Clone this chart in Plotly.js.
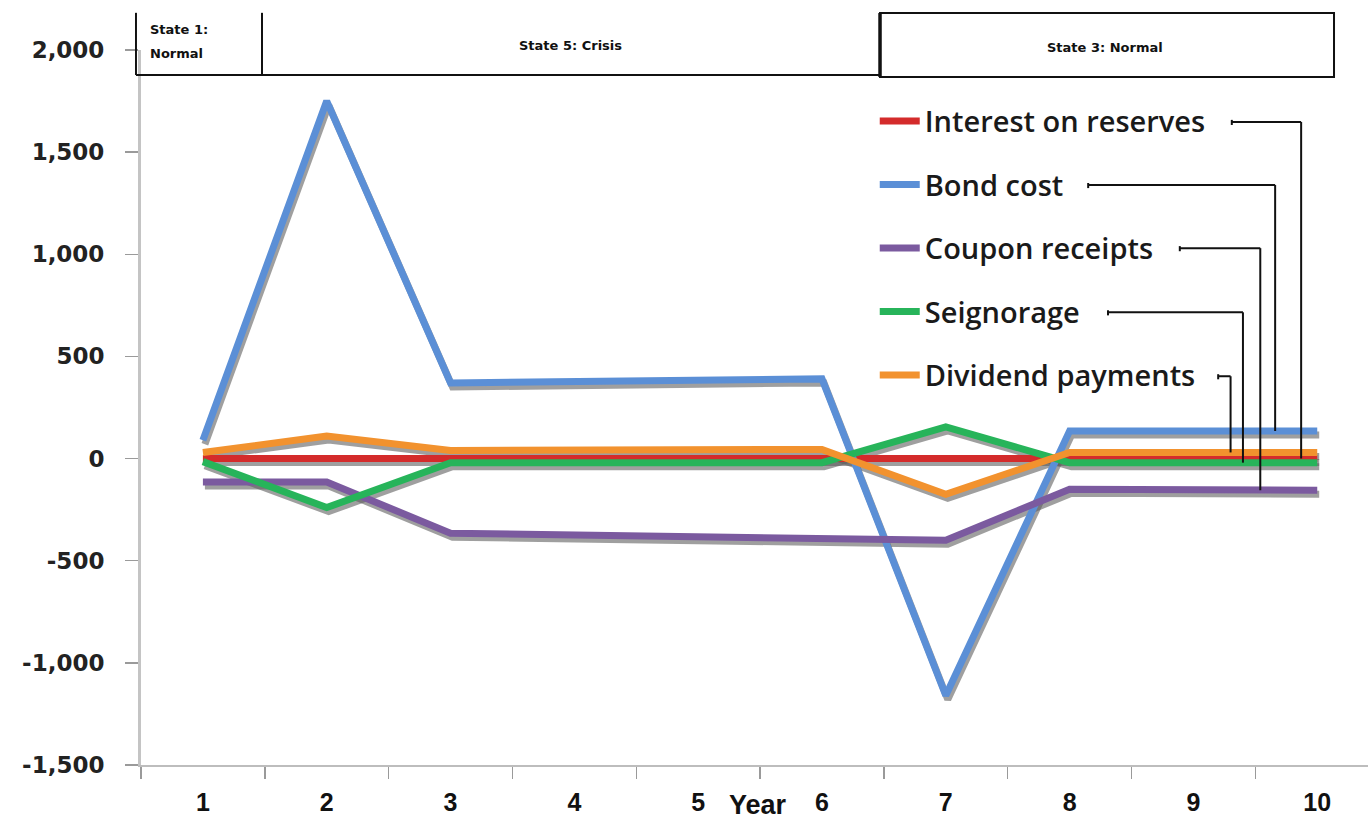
<!DOCTYPE html>
<html>
<head>
<meta charset="utf-8">
<script src="https://cdn.plot.ly/plotly-3.0.1.min.js"></script>
<style>
  html, body { margin: 0; padding: 0; background: #fff; }
  #chart { width: 1368px; height: 822px; }
  .x2y2 .scatterlayer { filter: blur(0.7px); }
</style>
</head>
<body>
<div id="chart"></div>
<script>
// Years along the horizontal axis
const years = ['1', '2', '3', '4', '5', '6', '7', '8', '9', '10'];

// Yearly flows for each item
const interestOnReserves = [0, 0, 0, 0, 0, 0, 0, 0, 0, 0];
const bondCost = [90, 1750, 370, 377, 384, 390, -1160, 135, 135, 135];
const couponReceipts = [-115, -115, -365, -373, -380, -388, -400, -150, -152, -155];
const seignorage = [-15, -240, -20, -20, -20, -20, 155, -20, -20, -20];
const dividendPayments = [30, 110, 40, 42, 43, 45, -175, 30, 30, 30];

const seriesNames = ['Interest on reserves', 'Bond cost', 'Coupon receipts', 'Seignorage', 'Dividend payments'];
const seriesValues = [interestOnReserves, bondCost, couponReceipts, seignorage, dividendPayments];
const seriesColors = ['#d42b2b', '#5b8fd6', '#7b5a9f', '#27b45a', '#f2922e'];

// Vertical axis ticks
const yTickVals = [-1500, -1000, -500, 0, 500, 1000, 1500, 2000];
const yTickText = ['-1,500', '-1,000', '-500', '0', '500', '1,000', '1,500', '2,000'];

// Regime bands along the top
const stateLabels = ['State 1:', 'Normal', 'State 5: Crisis', 'State 3: Normal'];

const xRange = [-0.5, 9.41];
const yRange = [-1500, 2000];
// shadow offset: about 2px right, 4px down
const shadowX = [xRange[0] - 0.016, xRange[1] - 0.016];
const shadowY = [yRange[0] + 19.6, yRange[1] + 19.6];

const traces = [];
seriesValues.forEach((vals, i) => {
  traces.push({
    x: years, y: vals, type: 'scatter', mode: 'lines',
    xaxis: 'x2', yaxis: 'y2', showlegend: false, hoverinfo: 'skip',
    line: { color: 'rgba(95,95,95,0.6)', width: 7 }
  });
});
seriesValues.forEach((vals, i) => {
  traces.push({
    x: years, y: vals, type: 'scatter', mode: 'lines',
    xaxis: 'x3', yaxis: 'y3', name: seriesNames[i], legendgroup: 'g' + i,
    line: { color: seriesColors[i], width: 7 }
  });
});

// Leader lines from each legend entry down to its series (x in category index, top y in data units)
const leaderStartX = [8.31, 7.15, 7.89, 7.31, 8.20];
const leaderCornerX = [8.87, 8.66, 8.54, 8.40, 8.30];
const leaderTopY = [1648, 1339, 1030, 716, 403];

const shapes = [];
const black = { color: '#111', width: 2 };
seriesValues.forEach((vals, i) => {
  const endY = vals[vals.length - 1];
  shapes.push({ type: 'line', xref: 'x', yref: 'y', x0: leaderStartX[i], x1: leaderCornerX[i], y0: leaderTopY[i], y1: leaderTopY[i], line: black });
  shapes.push({ type: 'line', xref: 'x', yref: 'y', x0: leaderCornerX[i], x1: leaderCornerX[i], y0: leaderTopY[i], y1: endY, line: black });
  shapes.push({ type: 'line', xref: 'x', yref: 'y', x0: leaderStartX[i], x1: leaderStartX[i], y0: leaderTopY[i] - 15, y1: leaderTopY[i] + 10, line: black });
});

// State boxes
shapes.push({ type: 'line', xref: 'paper', yref: 'paper', x0: -0.0041, x1: -0.0041, y0: 0.965, y1: 1.052, line: black });
shapes.push({ type: 'line', xref: 'paper', yref: 'paper', x0: 0.0986, x1: 0.0986, y0: 0.965, y1: 1.052, line: black });
shapes.push({ type: 'line', xref: 'paper', yref: 'paper', x0: -0.0041, x1: 0.6023, y0: 0.965, y1: 0.965, line: black });
shapes.push({ type: 'rect', xref: 'paper', yref: 'paper', x0: 0.6023, x1: 0.9723, y0: 0.9622, y1: 1.0517, line: black, fillcolor: 'rgba(0,0,0,0)' });
shapes.push({ type: 'line', xref: 'paper', yref: 'paper', x0: 0.6023, x1: 0.6023, y0: 0.9622, y1: 1.0517, line: { color: '#111', width: 3.5 } });

const stateFont = { family: 'DejaVu Sans', size: 13, color: '#111', weight: 'bold' };
const annotations = [
  { xref: 'paper', yref: 'paper', x: 0.006, y: 1.028, xanchor: 'left', yanchor: 'middle', showarrow: false, text: stateLabels[0], font: stateFont },
  { xref: 'paper', yref: 'paper', x: 0.006, y: 0.995, xanchor: 'left', yanchor: 'middle', showarrow: false, text: stateLabels[1], font: stateFont },
  { xref: 'paper', yref: 'paper', x: 0.35, y: 1.006, xanchor: 'center', yanchor: 'middle', showarrow: false, text: stateLabels[2], font: stateFont },
  { xref: 'paper', yref: 'paper', x: 0.786, y: 1.004, xanchor: 'center', yanchor: 'middle', showarrow: false, text: stateLabels[3], font: stateFont },
  { xref: 'paper', yref: 'paper', x: 0.503, y: 0, xanchor: 'center', yanchor: 'top', yshift: -23, showarrow: false, text: 'Year',
    font: { family: 'Liberation Sans Narrow, Liberation Sans, sans-serif', size: 27, color: '#111', weight: 'bold' } }
];

const layout = {
  width: 1368, height: 822,
  margin: { l: 141, r: 0, t: 50, b: 57 },
  paper_bgcolor: '#fff', plot_bgcolor: '#fff',
  showlegend: true,
  legend: {
    x: 0.598, xanchor: 'left', y: 0.936, yanchor: 'top',
    bgcolor: 'rgba(0,0,0,0)', borderwidth: 0, tracegroupgap: 22.8, itemwidth: 40,
    font: { family: 'Open Sans', size: 29, color: '#1a1a1a', weight: 600 }
  },
  xaxis: {
    type: 'category', categoryorder: 'array', categoryarray: years, range: xRange, tickson: 'boundaries',
    showgrid: false, zeroline: false, showline: true, linecolor: '#bdbdbd', linewidth: 2,
    ticks: 'outside', ticklen: 12, tickcolor: '#9a9a9a', tickwidth: 1.5, ticklabelstandoff: 14,
    tickfont: { family: 'Liberation Sans Narrow, Liberation Sans, sans-serif', size: 25, color: '#111', weight: 'bold' }
  },
  yaxis: {
    range: yRange, tickvals: yTickVals, ticktext: yTickText,
    showgrid: false, zeroline: false, showline: true, linecolor: '#c4c4c4', linewidth: 3,
    ticks: 'outside', ticklen: 13, tickcolor: '#9a9a9a', tickwidth: 1.5, ticklabelstandoff: 16,
    tickfont: { family: 'DejaVu Sans', size: 23, color: '#222', weight: 'bold' }
  },
  xaxis2: { type: 'category', categoryorder: 'array', categoryarray: years, overlaying: 'x', range: shadowX, visible: false },
  yaxis2: { overlaying: 'y', range: shadowY, visible: false },
  xaxis3: { type: 'category', categoryorder: 'array', categoryarray: years, overlaying: 'x', range: xRange, visible: false },
  yaxis3: { overlaying: 'y', range: yRange, visible: false },
  shapes: shapes,
  annotations: annotations
};

Plotly.newPlot('chart', traces, layout, { staticPlot: true, displayModeBar: false });
</script>
</body>
</html>
